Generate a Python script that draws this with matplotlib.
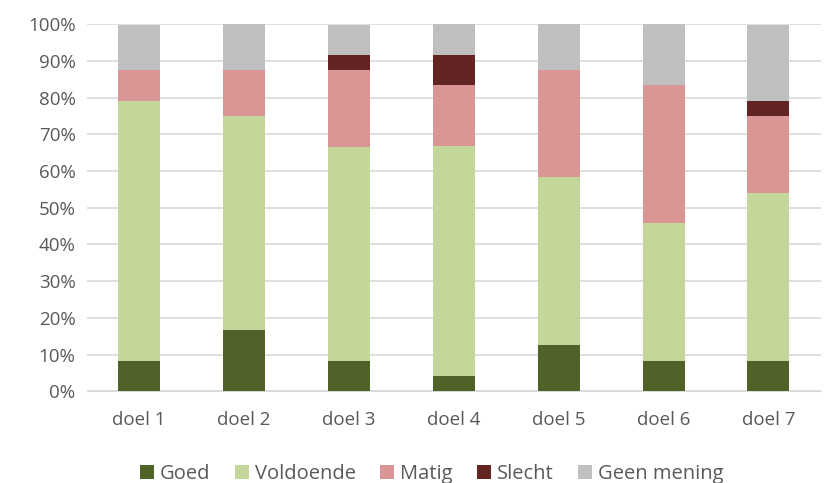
import numpy as np
from matplotlib import pyplot as plt
from matplotlib.ticker import PercentFormatter

plt.rcParams["font.family"] = ["Open Sans", "DejaVu Sans"]

categories = ["doel 1", "doel 2", "doel 3", "doel 4", "doel 5", "doel 6", "doel 7"]
goed = [8.3, 16.7, 8.3, 4.2, 12.5, 8.3, 8.3]
voldoende = [70.8, 58.3, 58.3, 62.5, 45.8, 37.5, 45.8]
matig = [8.3, 12.5, 20.8, 16.7, 29.2, 37.5, 20.8]
slecht = [0.0, 0.0, 4.2, 8.3, 0.0, 0.0, 4.2]
geen = [12.5, 12.5, 8.3, 8.3, 12.5, 16.7, 20.8]

series = [
    ("Goed", goed, "#4f6228"),
    ("Voldoende", voldoende, "#c4d79b"),
    ("Matig", matig, "#da9694"),
    ("Slecht", slecht, "#632523"),
    ("Geen mening", geen, "#bfbfbf"),
]

fig = plt.figure(figsize=(8.25, 4.83), dpi=100)
ax = fig.add_axes([0.105, 0.19, 0.89, 0.76])

x = np.arange(len(categories))
bottom = np.zeros(len(categories))
for name, vals, col in series:
    vals = np.array(vals)
    ax.bar(x, vals, 0.4, bottom=bottom, color=col, label=name, zorder=3)
    bottom += vals

ax.set_ylim(0, 100)
ax.set_xlim(-0.5, len(categories) - 0.5)
ax.set_yticks(np.arange(0, 101, 10))
ax.yaxis.set_major_formatter(PercentFormatter(decimals=0))
ax.set_xticks(x)
ax.set_xticklabels(categories)
ax.grid(axis="y", color="#d9d9d9", linewidth=1.2, zorder=0)
for s in ["top", "right", "left"]:
    ax.spines[s].set_visible(False)
ax.spines["bottom"].set_color("#d9d9d9")
ax.tick_params(axis="both", length=0, labelsize=13.5, colors="#595959", pad=8)
ax.tick_params(axis="x", pad=14)

ax.legend(loc="upper center", bbox_to_anchor=(0.47, -0.15), ncol=5, frameon=False,
          fontsize=14.5, labelcolor="#595959", handlelength=0.7, handleheight=0.7,
          handletextpad=0.3, columnspacing=1.2)

fig.savefig("out.png", dpi=100)
